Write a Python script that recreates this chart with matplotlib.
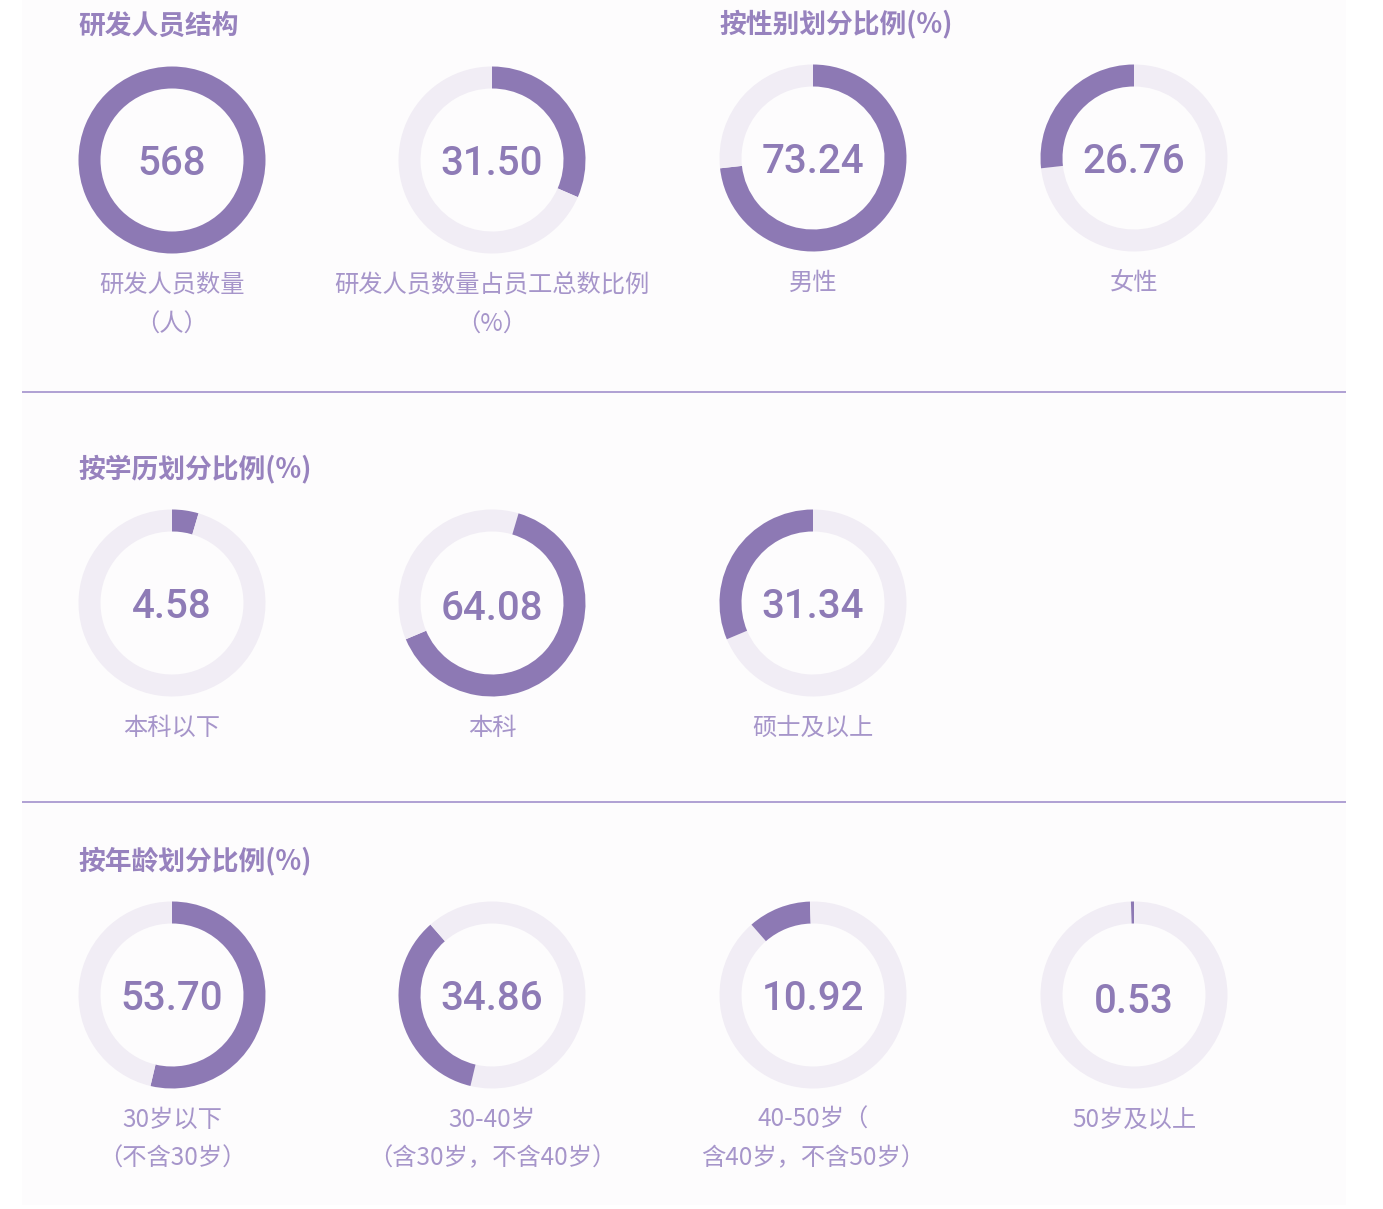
import matplotlib
matplotlib.use("Agg")
import matplotlib.pyplot as plt
from matplotlib.patches import Rectangle

plt.rcParams['font.family'] = ['Noto Sans CJK SC', 'DejaVu Sans']

# ---------------- data ----------------
titles = ["研发人员结构", "按性别划分比例(%)", "按学历划分比例(%)", "按年龄划分比例(%)"]

staff_values = [568, 31.50]
staff_labels = ["研发人员数量\n（人）", "研发人员数量占员工总数比例\n（%）"]
staff_texts = ["568", "31.50"]

gender_values = [73.24, 26.76]
gender_labels = ["男性", "女性"]

edu_values = [4.58, 64.08, 31.34]
edu_labels = ["本科以下", "本科", "硕士及以上"]

age_values = [53.70, 34.86, 10.92, 0.53]
age_labels = ["30岁以下\n（不含30岁）", "30-40岁\n（含30岁，不含40岁）",
              "40-50岁（\n含40岁，不含50岁）", "50岁及以上"]

# ---------------- style ----------------
W, H = 1383, 1209
BG = "#FDFCFD"
RING = "#8D79B4"
TRACK = "#F1EDF5"
NUM_C = "#8E7BB6"
LAB_C = "#A695CA"
TITLE_C = "#9782BE"
LINE_C = "#A999D0"

fig = plt.figure(figsize=(W / 100, H / 100), dpi=100)
fig.patch.set_facecolor("white")
base = fig.add_axes([0, 0, 1, 1])
base.set_xlim(0, W)
base.set_ylim(H, 0)
base.axis("off")
base.add_patch(Rectangle((22, 0), 1324, 1205, facecolor=BG, edgecolor="none", zorder=0))

R_OUT = 93.5
RING_W = 22.0 / 93.5


def donut(cx, cy, start_pct, value_pct, text, label, label_y, full=False, ty=0):
    ax = fig.add_axes([(cx - R_OUT) / W, 1 - (cy + R_OUT) / H, 2 * R_OUT / W, 2 * R_OUT / H])
    if full:
        sizes = [100]
        colors = [RING]
    else:
        sizes = [start_pct, value_pct, max(100 - start_pct - value_pct, 0)]
        colors = [TRACK, RING, TRACK]
    ax.pie(sizes, colors=colors, startangle=90, counterclock=False, radius=1,
           wedgeprops=dict(width=RING_W, linewidth=0, edgecolor="none"))
    ax.set_xlim(-1, 1)
    ax.set_ylim(-1, 1)
    ax.set_aspect("equal")
    ax.axis("off")
    base.text(cx, cy + ty, text, ha="center", va="center_baseline", fontsize=29,
              color=NUM_C, family=["Roboto", "Noto Sans CJK SC"], weight="medium")
    base.text(cx, label_y, label, ha="center", va="top", fontsize=17.5,
              color=LAB_C, linespacing=1.62, weight="light")


cols = [172, 492, 813, 1134]

# titles
tkw = dict(ha="left", va="center", fontsize=19.3, color=TITLE_C, weight="bold")
base.text(78, 26, titles[0], **tkw)
base.text(719, 24, titles[1], **tkw)
base.text(78, 469, titles[2], **tkw)
base.text(78, 861, titles[3], **tkw)

# row 1: staff
donut(cols[0], 160, 0, 100, staff_texts[0], staff_labels[0], 273, full=True)
donut(cols[1], 160, 0, staff_values[1], staff_texts[1], staff_labels[1], 273)

# row 1: gender
start = 0
for i, v in enumerate(gender_values):
    donut(cols[2 + i], 158, start, v, f"{v:.2f}", gender_labels[i], 270)
    start += v

# row 2: education
start = 0
for i, v in enumerate(edu_values):
    donut(cols[i], 603, start, v, f"{v:.2f}", edu_labels[i], 715, ty=2 if i == 1 else 0)
    start += v

# row 3: age
start = 0
for i, v in enumerate(age_values):
    donut(cols[i], 995, start, v, f"{v:.2f}", age_labels[i], 1107, ty=3 if i == 3 else 0)
    start += v

# separators
base.plot([22, 1346], [392, 392], color=LINE_C, lw=1.3, solid_capstyle="butt")
base.plot([22, 1346], [802, 802], color=LINE_C, lw=1.3, solid_capstyle="butt")

fig.savefig("out.png", dpi=100, facecolor="white")
